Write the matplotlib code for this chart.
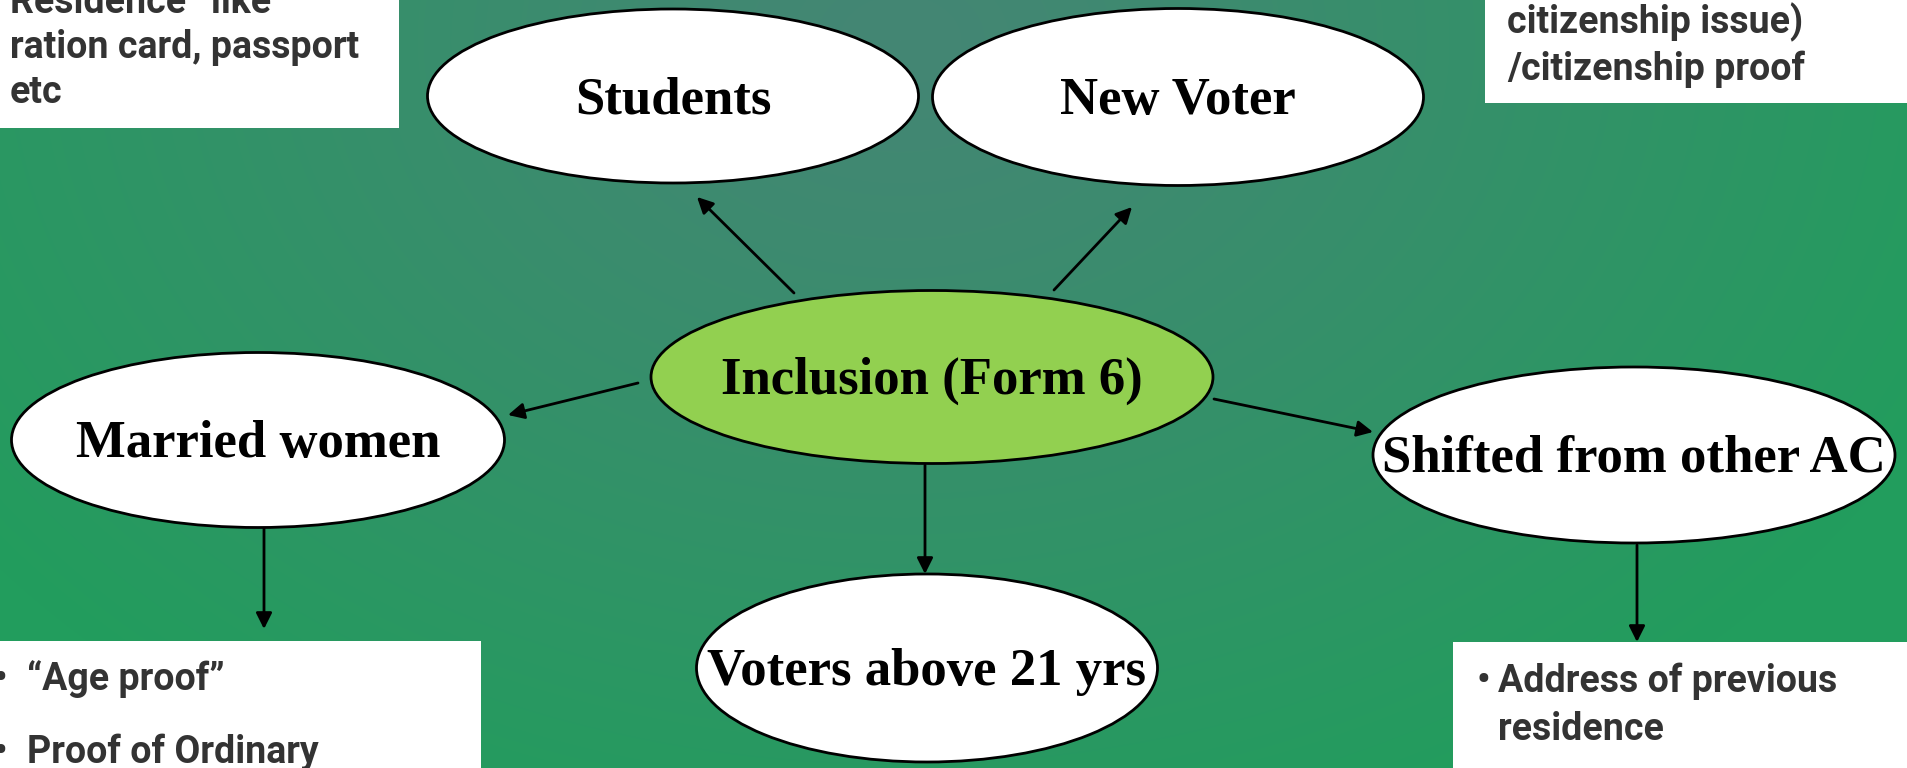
import matplotlib
matplotlib.use('Agg')
import matplotlib.pyplot as plt
from matplotlib.patches import Ellipse, Rectangle
import numpy as np

# node labels of the diagram
centre_label = 'Inclusion (Form 6)'
node_labels = ['Students', 'New Voter', 'Married women', 'Shifted from other AC', 'Voters above 21 yrs']

# side notes (partly cut off at the slide edges)
note_top_left = ['Residence\u201d like', 'ration card, passport', 'etc']
note_top_right = ['citizenship issue)', '/citizenship proof']
note_bottom_left = ['\u201cAge proof\u201d', 'Proof of Ordinary']
note_bottom_right = ['Address of previous', 'residence']

# layout in pixels: centre x, centre y, width, height
node_geom = {
    'Inclusion (Form 6)': (932, 377, 562, 173),
    'Students': (673, 96, 491, 174),
    'New Voter': (1178, 97, 491, 177),
    'Married women': (258, 440, 493, 175),
    'Shifted from other AC': (1634, 455, 522, 176),
    'Voters above 21 yrs': (927, 668, 461, 188),
}

# arrows: (tail, tip)
arrows = [
    ((794, 293), (697, 197)),
    ((1054, 290), (1132, 207)),
    ((638, 383), (508, 415)),
    ((1214, 399), (1373, 432)),
    ((925, 465), (925, 574)),
    ((264, 528), (264, 629)),
    ((1637, 545), (1637, 642)),
]

W, H = 1908, 768
fig = plt.figure(figsize=(W / 100, H / 100), dpi=100)
ax = fig.add_axes([0, 0, 1, 1])
ax.set_xlim(0, W)
ax.set_ylim(H, 0)
ax.axis('off')

# radial teal -> green background
yy, xx = np.mgrid[0:H, 0:W]
d = np.sqrt(((xx - 900) / 1150.0) ** 2 + ((yy - 40) / 850.0) ** 2)
d = np.clip(d, 0, 1)[..., None] ** 1.2
teal = np.array([68, 134, 116]) / 255.0
green = np.array([34, 157, 93]) / 255.0
bg = teal * (1 - d) + green * d
ax.imshow(bg, extent=(0, W, H, 0), aspect='auto', zorder=0)

# white note boxes
for (x0, y0, x1, y1) in [(0, 0, 399, 128), (1485, 0, 1908, 103),
                         (0, 641, 481, 768), (1453, 642, 1908, 768)]:
    ax.add_patch(Rectangle((x0, y0), x1 - x0, y1 - y0, facecolor='white',
                           edgecolor='none', zorder=1))

note_kw = dict(family=['Roboto', 'DejaVu Sans'], fontweight='bold', fontsize=27,
               color='#333333', va='baseline', ha='left', zorder=5)
for txt, yb in zip(note_top_left, [13, 58, 103]):
    ax.text(10, yb, txt, **note_kw)
for txt, yb in zip(note_top_right, [33, 80]):
    ax.text(1507, yb, txt, **note_kw)
for txt, yb in zip(note_bottom_left, [690, 763]):
    ax.text(-7, yb, '\u2022', **note_kw)
    ax.text(27, yb, txt, **note_kw)
ax.text(1477, 692, '\u2022', **note_kw)
for txt, yb in zip(note_bottom_right, [692, 740]):
    ax.text(1498, yb, txt, **note_kw)

# arrows
for tail, tip in arrows:
    ax.annotate('', xy=tip, xytext=tail,
                arrowprops=dict(arrowstyle='-|>', color='black', lw=2,
                                mutation_scale=24, shrinkA=0, shrinkB=0),
                zorder=3)

# ellipses with labels
for label in [centre_label] + node_labels:
    cx, cy, w, h = node_geom[label]
    face = '#92d050' if label == centre_label else 'white'
    ax.add_patch(Ellipse((cx, cy), w, h, facecolor=face, edgecolor='black',
                         lw=2, zorder=4))
    ax.text(cx, cy + 17, label, family=['Liberation Serif', 'DejaVu Serif'],
            fontweight='bold', fontsize=38, ha='center', va='baseline',
            color='black', zorder=5)

fig.savefig('out.png', dpi=100)
